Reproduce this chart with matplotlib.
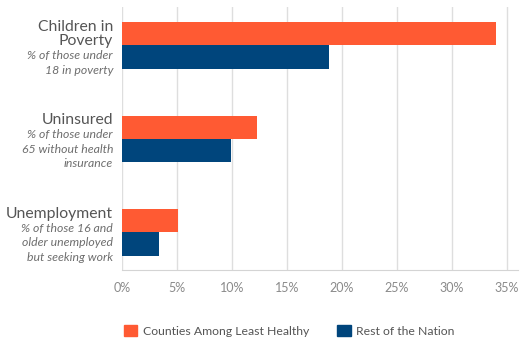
import matplotlib.pyplot as plt
import numpy as np
from matplotlib.patches import Patch

# categories, top to bottom
titles = ["Children in\nPoverty", "Uninsured", "Unemployment"]
subtitles = ["% of those under\n18 in poverty",
             "% of those under\n65 without health\ninsurance",
             "% of those 16 and\nolder unemployed\nbut seeking work"]
least_healthy = [34.0, 12.3, 5.1]
rest_of_nation = [18.8, 9.9, 3.4]
series_names = ["Counties Among Least Healthy", "Rest of the Nation"]
xticks = [0, 5, 10, 15, 20, 25, 30, 35]

ORANGE = "#ff5a33"
BLUE = "#00457c"

plt.rcParams['font.family'] = ['Lato', 'DejaVu Sans']

fig = plt.figure(figsize=(5.24, 3.39), dpi=100)
ax = fig.add_axes([0.233, 0.204, 0.755, 0.775])

y = np.arange(len(titles))
h = 0.25
ax.barh(y - h / 2, least_healthy, height=h, color=ORANGE, zorder=3)
ax.barh(y + h / 2, rest_of_nation, height=h, color=BLUE, zorder=3)

ax.set_ylim(len(titles) - 1 + 0.40, -0.41)
ax.set_xlim(0, 36)
ax.set_xticks(xticks)
ax.set_xticklabels([f"{t}%" for t in xticks], color="#8a8a8a", fontsize=9)
ax.set_yticks([])
ax.tick_params(axis='x', length=0, pad=9)
ax.grid(axis='x', color="#dedede", linewidth=1, zorder=0)
for side in ["top", "right", "left"]:
    ax.spines[side].set_visible(False)
ax.spines["bottom"].set_color("#d4d4d4")

# category labels: title plus italic description, right aligned
line_px = 14.5
for i, (t, s) in enumerate(zip(titles, subtitles)):
    lines = [(l, False) for l in t.split("\n")] + [(l, True) for l in s.split("\n")]
    n = len(lines)
    for k, (txt, italic) in enumerate(lines):
        off = (k - (n - 1) / 2) * line_px + 3
        ax.annotate(txt, xy=(0, i), xycoords=('axes fraction', 'data'),
                    xytext=(-6.5, -off * 0.72), textcoords='offset points',
                    ha='right', va='center',
                    fontsize=8.8 if italic else 11.3,
                    style='italic' if italic else 'normal',
                    color="#6e6e6e" if italic else "#555555")

handles = [Patch(color=ORANGE), Patch(color=BLUE)]
fig.legend(handles, series_names, loc='center left', bbox_to_anchor=(0.215, 0.025),
           ncol=2, frameon=False, fontsize=8.8, handlelength=1.1, handleheight=1.1,
           handletextpad=0.45, columnspacing=2.3, labelcolor="#555555")

fig.savefig("out.png", dpi=100)
